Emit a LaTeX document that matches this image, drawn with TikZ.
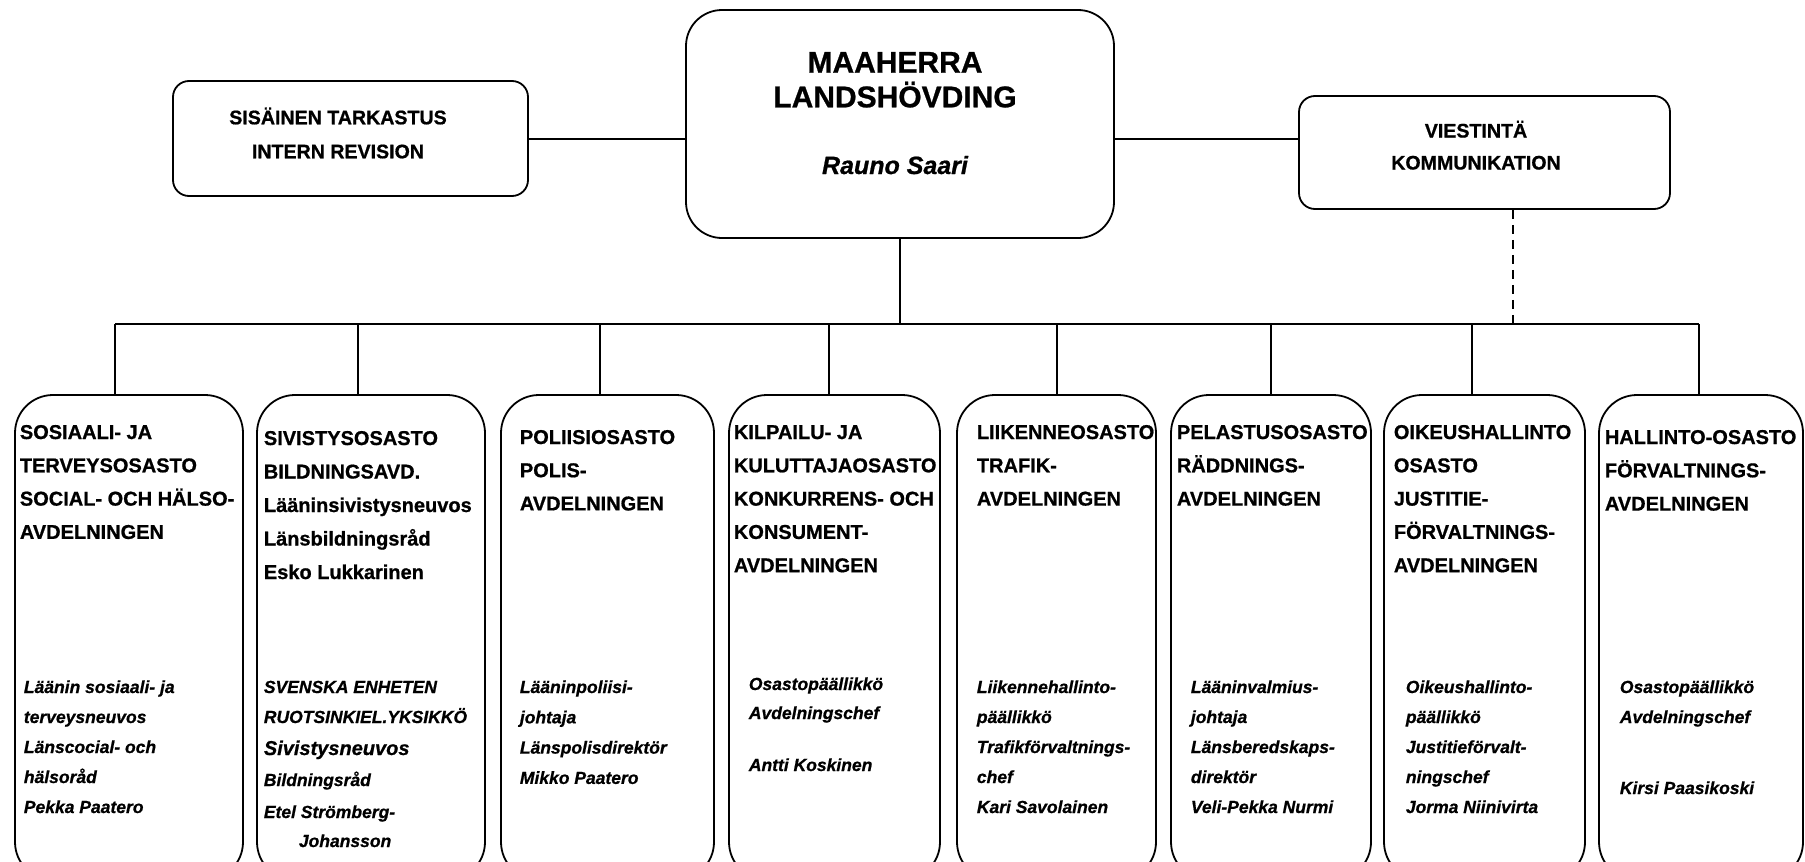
\documentclass[tikz,border=0pt]{standalone}
\usepackage{fontspec}
\setmainfont{Liberation Sans}[BoldFeatures={FakeBold=0.8},BoldItalicFeatures={FakeBold=0.8}]
\newcommand\txtlines[6]{%
  \foreach \t [count=\i] in {#6} {\node[#1, name=#5-\i] at (#2, {#3+(\i-1)*#4}) {\t};}}
\begin{document}
\begin{tikzpicture}[x=1pt,y=-1pt,line width=1.8pt,
  rbox/.style={draw, rounded corners=#1, inner sep=0pt, fill=white},
  toptxt/.style={anchor=base, inner sep=0pt, font=\fontsize{19.6}{23}\selectfont\bfseries},
  bigtxt/.style={anchor=base, inner sep=0pt, font=\fontsize{30}{36}\selectfont\bfseries},
  nametxt/.style={anchor=base, inner sep=0pt, font=\fontsize{25}{30}\selectfont\bfseries\itshape},
  hdr/.style={anchor=base west, inner sep=0pt, font=\fontsize{20}{24}\selectfont\bfseries},
  itl/.style={anchor=base west, inner sep=0pt, font=\fontsize{17.5}{21}\selectfont\bfseries\itshape},
  itlbig/.style={anchor=base west, inner sep=0pt, font=\fontsize{20}{24}\selectfont\bfseries\itshape},
  conn/.style={draw, line width=1.8pt},
  dashconn/.style={draw, line width=2.4pt, dash pattern=on 9pt off 6pt}]
\useasboundingbox (0,0) rectangle (1805,862);
\clip (0,0) rectangle (1805,862);
\fill[white] (0,0) rectangle (1805,862);

% top boxes
\node[rbox=16pt, minimum width=355pt, minimum height=115pt] (sis) at (350.5,138.5) {};
\node[rbox=36pt, minimum width=428pt, minimum height=228pt] (maa) at (900,124) {};
\node[rbox=16pt, minimum width=371pt, minimum height=113pt] (vie) at (1484.5,152.5) {};

\node[toptxt] (sis-1) at (338,124.3) {SISÄINEN TARKASTUS};
\node[toptxt] (sis-2) at (338,158.3) {INTERN REVISION};
\node[bigtxt] (maa-1) at (895,72.7) {MAAHERRA};
\node[bigtxt] (maa-2) at (895,107.3) {LANDSHÖVDING};
\node[nametxt] (maa-3) at (895,174) {Rauno Saari};
\node[toptxt] (vie-1) at (1476,137.5) {VIESTINTÄ};
\node[toptxt] (vie-2) at (1476,169.5) {KOMMUNIKATION};

% department boxes
\node[rbox=38pt, minimum width=228pt, minimum height=485pt] (d1) at (129,637.5) {};
\node[rbox=38pt, minimum width=228pt, minimum height=485pt] (d2) at (371,637.5) {};
\node[rbox=38pt, minimum width=213pt, minimum height=485pt] (d3) at (607.5,637.5) {};
\node[rbox=38pt, minimum width=211pt, minimum height=485pt] (d4) at (834.5,637.5) {};
\node[rbox=38pt, minimum width=199pt, minimum height=485pt] (d5) at (1056.5,637.5) {};
\node[rbox=38pt, minimum width=200pt, minimum height=485pt] (d6) at (1271,637.5) {};
\node[rbox=38pt, minimum width=201pt, minimum height=485pt] (d7) at (1484.5,637.5) {};
\node[rbox=38pt, minimum width=204pt, minimum height=485pt] (d8) at (1701,637.5) {};

% connectors
\coordinate (hy) at (0,139);
\coordinate (bus) at (0,324);
\coordinate (b1) at (115,324);
\coordinate (b2) at (358,324);
\coordinate (b3) at (600,324);
\coordinate (b4) at (829,324);
\coordinate (b5) at (1057,324);
\coordinate (b6) at (1271,324);
\coordinate (b7) at (1472,324);
\coordinate (b8) at (1699,324);
\coordinate (vd) at (1513,324);

\path[conn] (sis.east |- hy) -- (maa.west |- hy);
\path[conn] (maa.east |- hy) -- (vie.west |- hy);
\path[conn] (maa.south) -- (maa.south |- bus);
\path[conn] (b1) -- (b8);
\foreach \k in {1,...,8} {\path[conn] (b\k) -- (b\k |- d\k.north);}
\path[dashconn] (vd |- vie.south) -- (vd);

% department headers
\txtlines{hdr}{19}{439}{33.3}{h1}{SOSIAALI- JA,TERVEYSOSASTO,SOCIAL- OCH HÄLSO-,AVDELNINGEN}
\txtlines{hdr}{263}{445}{33.5}{h2}{SIVISTYSOSASTO,BILDNINGSAVD.,Lääninsivistysneuvos,Länsbildningsråd,Esko Lukkarinen}
\txtlines{hdr}{519}{444}{33.2}{h3}{POLIISIOSASTO,POLIS-,AVDELNINGEN}
\txtlines{hdr}{733}{439}{33.3}{h4}{KILPAILU- JA,KULUTTAJAOSASTO,KONKURRENS- OCH,KONSUMENT-,AVDELNINGEN}
\txtlines{hdr}{976}{439}{33.3}{h5}{LIIKENNEOSASTO,TRAFIK-,AVDELNINGEN}
\txtlines{hdr}{1176}{439}{33.3}{h6}{PELASTUSOSASTO,RÄDDNINGS-,AVDELNINGEN}
\txtlines{hdr}{1393}{439}{33.3}{h7}{OIKEUSHALLINTO,OSASTO,JUSTITIE-,FÖRVALTNINGS-,AVDELNINGEN}
\txtlines{hdr}{1604}{444}{33.3}{h8}{HALLINTO-OSASTO,FÖRVALTNINGS-,AVDELNINGEN}

% department heads
\txtlines{itl}{23}{693}{30}{p1}{Läänin sosiaali- ja,terveysneuvos,Länscocial- och,hälsoråd,Pekka Paatero}
\node[itl] (p2-1) at (263,693) {SVENSKA ENHETEN};
\node[itl] (p2-2) at (263,723) {RUOTSINKIEL.YKSIKKÖ};
\node[itlbig] (p2-3) at (263,755) {Sivistysneuvos};
\node[itl] (p2-4) at (263,786) {Bildningsråd};
\node[itl] (p2-5) at (263,818) {Etel Strömberg-};
\node[itl] (p2-6) at (298,847) {Johansson};
\txtlines{itl}{519}{693}{30.3}{p3}{Lääninpoliisi-,johtaja,Länspolisdirektör,Mikko Paatero}
\node[itl] (p4-1) at (748,690) {Osastopäällikkö};
\node[itl] (p4-2) at (748,719) {Avdelningschef};
\node[itl] (p4-3) at (748,771) {Antti Koskinen};
\txtlines{itl}{976}{693}{30}{p5}{Liikennehallinto-,päällikkö,Trafikförvaltnings-,chef,Kari Savolainen}
\txtlines{itl}{1190}{693}{30}{p6}{Lääninvalmius-,johtaja,Länsberedskaps-,direktör,Veli-Pekka Nurmi}
\txtlines{itl}{1405}{693}{30}{p7}{Oikeushallinto-,päällikkö,Justitieförvalt-,ningschef,Jorma Niinivirta}
\node[itl] (p8-1) at (1619,693) {Osastopäällikkö};
\node[itl] (p8-2) at (1619,723) {Avdelningschef};
\node[itl] (p8-3) at (1619,794) {Kirsi Paasikoski};
\end{tikzpicture}
\end{document}
